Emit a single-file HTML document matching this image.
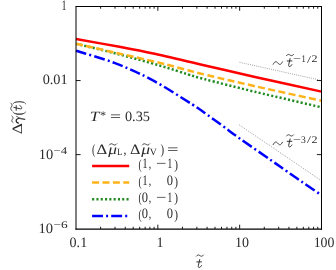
<!DOCTYPE html>
<html><head><meta charset="utf-8"><title>plot</title>
<style>html,body{margin:0;padding:0;background:#fff;overflow:hidden;width:336px;height:270px;}svg{display:block;will-change:transform;}text{font-family:"Liberation Serif",serif;fill:#2a2a2a;text-rendering:geometricPrecision;}</style></head><body>
<svg width="336" height="270" viewBox="0 0 336 270">
<rect width="336" height="270" fill="#fff"/>
<g fill="none" stroke="#606060" stroke-width="0.65" stroke-dasharray="0.9 1.25">
<path d="M239.5 62.3 L319.5 80.0"/>
<path d="M239.1 124.8 L320.8 180.3"/>
</g>
<g fill="none" stroke-width="2.5" stroke-linecap="butt" stroke-linejoin="round">
<path d="M76.00 50.80 C82.50 52.85 102.33 58.25 115.00 63.10 C127.67 67.95 139.15 73.03 152.00 79.90 C164.85 86.77 182.78 98.42 192.10 104.30 C201.42 110.18 202.60 111.45 207.90 115.20 C213.20 118.95 218.62 122.93 223.90 126.80 C229.18 130.67 231.75 132.83 239.60 138.40 C247.45 143.97 263.18 154.75 271.00 160.20 C278.82 165.65 281.29 167.45 286.50 171.10 C291.71 174.75 296.98 178.47 302.25 182.10 C307.52 185.73 314.89 190.72 318.10 192.90 C321.31 195.08 320.93 194.82 321.50 195.20" stroke="#0000ff" stroke-dasharray="10.9 3.1 2 3.1"/>
<path d="M76.00 43.70 C82.50 45.30 101.00 49.65 115.00 53.30 C129.00 56.95 147.83 62.08 160.00 65.60 C172.17 69.12 180.50 72.12 188.00 74.40 C195.50 76.68 193.83 76.40 205.00 79.30 C216.17 82.20 235.58 87.13 255.00 91.80 C274.42 96.47 310.42 104.72 321.50 107.30" stroke="#228b22" stroke-dasharray="2.1 2.2"/>
<path d="M76.00 43.70 C82.50 45.18 101.00 49.40 115.00 52.60 C129.00 55.80 148.67 60.17 160.00 62.90 C171.33 65.63 175.17 66.97 183.00 69.00 C190.83 71.03 195.00 72.23 207.00 75.10 C219.00 77.97 235.92 81.92 255.00 86.20 C274.08 90.48 310.42 98.37 321.50 100.80" stroke="#ffb31a" stroke-dasharray="7 3.4"/>
<path d="M76.00 39.00 C83.00 40.27 105.33 44.22 118.00 46.60 C130.67 48.98 137.50 50.15 152.00 53.30 C166.50 56.45 187.83 61.55 205.00 65.50 C222.17 69.45 235.58 72.65 255.00 77.00 C274.42 81.35 310.42 89.17 321.50 91.60" stroke="#ff0000"/>
</g>
<g fill="none" stroke-width="2.5">
<path d="M92.1 166.0H129.2" stroke="#ff0000"/>
<path d="M92.1 182.6H129.2" stroke="#ffb31a" stroke-dasharray="7 3.4"/>
<path d="M92.1 199.3H129.2" stroke="#228b22" stroke-dasharray="2.1 2.2"/>
<path d="M92.1 216.0H129.2" stroke="#0000ff" stroke-dasharray="10.9 3.1 2 3.1"/>
</g>
<g fill="none" stroke="#000" stroke-width="1">
<path d="M75.50 6.50H321.99"/>
<path d="M75.50 229.05H321.99" stroke-width="1.3"/>
<path d="M76.00 6.50V229.70"/>
<path d="M321.49 6.50V229.70"/>
<path d="M100.63 6.50v2.20 M100.63 228.98v-2.20 M115.04 6.50v2.20 M115.04 228.98v-2.20 M125.27 6.50v2.20 M125.27 228.98v-2.20 M133.20 6.50v2.20 M133.20 228.98v-2.20 M139.68 6.50v2.20 M139.68 228.98v-2.20 M145.15 6.50v2.20 M145.15 228.98v-2.20 M149.90 6.50v2.20 M149.90 228.98v-2.20 M154.09 6.50v2.20 M154.09 228.98v-2.20 M157.83 6.50v4.30 M157.83 228.98v-4.30 M182.46 6.50v2.20 M182.46 228.98v-2.20 M196.87 6.50v2.20 M196.87 228.98v-2.20 M207.10 6.50v2.20 M207.10 228.98v-2.20 M215.03 6.50v2.20 M215.03 228.98v-2.20 M221.51 6.50v2.20 M221.51 228.98v-2.20 M226.98 6.50v2.20 M226.98 228.98v-2.20 M231.73 6.50v2.20 M231.73 228.98v-2.20 M235.92 6.50v2.20 M235.92 228.98v-2.20 M239.66 6.50v4.30 M239.66 228.98v-4.30 M264.29 6.50v2.20 M264.29 228.98v-2.20 M278.70 6.50v2.20 M278.70 228.98v-2.20 M288.93 6.50v2.20 M288.93 228.98v-2.20 M296.86 6.50v2.20 M296.86 228.98v-2.20 M303.34 6.50v2.20 M303.34 228.98v-2.20 M308.81 6.50v2.20 M308.81 228.98v-2.20 M313.56 6.50v2.20 M313.56 228.98v-2.20 M317.75 6.50v2.20 M317.75 228.98v-2.20 M76.00 80.56h4.6 M321.49 80.56h-4.6 M76.00 154.62h4.6 M321.49 154.62h-4.6 " stroke-width="0.9"/>
</g>
<text transform="translate(61.38 9.60) scale(0.737 1.050)" font-size="13.6">1</text>
<text transform="translate(42.68 84.30) scale(1.049 1.050)" font-size="13.6">0.01</text>
<text transform="translate(38.77 158.70) scale(1.064 1.050)" font-size="13.6">10</text>
<text transform="translate(53.53 154.00) scale(1.337 1.050)" font-size="9.6">−4</text>
<text transform="translate(38.56 232.50) scale(1.072 1.050)" font-size="13.6">10</text>
<text transform="translate(53.41 227.90) scale(1.389 1.050)" font-size="9.6">−6</text>
<text transform="translate(69.58 246.90) scale(1.035 1.050)" font-size="13.6">0.1</text>
<text transform="translate(156.61 246.90) scale(1.032 1.050)" font-size="13.6">1</text>
<text transform="translate(234.91 246.90) scale(1.030 1.050)" font-size="13.6">10</text>
<text transform="translate(313.63 246.90) scale(1.019 1.050)" font-size="13.6">100</text>
<text transform="translate(89.73 121.00) scale(1.269 1.050)" font-size="13.6" font-style="italic">T</text>
<text transform="translate(100.00 118.62) scale(0.940 0.884)" font-size="13">*</text>
<text transform="translate(109.92 121.00) scale(1.440 1.050)" font-size="13.6">=</text>
<text transform="translate(124.97 121.10) scale(1.051 1.050)" font-size="13.6">0.35</text>
<text transform="translate(91.93 154.16) scale(0.743 1.033)" font-size="13.6">(</text>
<text transform="translate(96.39 154.00) scale(1.226 1.050)" font-size="13.6">Δ</text>
<text transform="translate(108.20 154.00) scale(1.280 1.050)" font-size="13.6" font-style="italic">μ</text>
<text transform="translate(116.96 155.40) scale(0.968 1.050)" font-size="9.2">L</text>
<text transform="translate(123.38 154.00) scale(0.850 1.050)" font-size="13.6">,</text>
<text transform="translate(130.01 154.00) scale(1.187 1.050)" font-size="13.6">Δ</text>
<text transform="translate(141.30 154.00) scale(1.296 1.050)" font-size="13.6" font-style="italic">μ</text>
<text transform="translate(149.63 155.40) scale(1.072 1.050)" font-size="9.2">V</text>
<text transform="translate(160.60 154.16) scale(0.800 1.033)" font-size="13.6">)</text>
<text transform="translate(167.07 154.00) scale(1.504 1.050)" font-size="13.6">=</text>
<text transform="translate(138.56 168.93) scale(0.686 1.008)" font-size="13.6">(</text>
<text transform="translate(142.20 168.40) scale(0.800 1.050)" font-size="13.6">1</text>
<text transform="translate(148.65 168.40) scale(0.700 1.050)" font-size="13.6">,</text>
<text transform="translate(156.08 168.40) scale(1.360 1.050)" font-size="13.6">−</text>
<text transform="translate(167.35 168.40) scale(0.758 1.050)" font-size="13.6">1</text>
<text transform="translate(174.19 168.93) scale(0.829 1.008)" font-size="13.6">)</text>
<text transform="translate(138.56 185.53) scale(0.686 1.008)" font-size="13.6">(</text>
<text transform="translate(142.20 185.00) scale(0.800 1.050)" font-size="13.6">1</text>
<text transform="translate(148.65 185.00) scale(0.700 1.050)" font-size="13.6">,</text>
<text transform="translate(166.64 185.00) scale(0.922 1.050)" font-size="13.6">0</text>
<text transform="translate(174.19 185.53) scale(0.829 1.008)" font-size="13.6">)</text>
<text transform="translate(138.56 202.23) scale(0.686 1.008)" font-size="13.6">(</text>
<text transform="translate(141.84 201.70) scale(0.922 1.050)" font-size="13.6">0</text>
<text transform="translate(148.65 201.70) scale(0.700 1.050)" font-size="13.6">,</text>
<text transform="translate(156.08 201.70) scale(1.360 1.050)" font-size="13.6">−</text>
<text transform="translate(167.35 201.70) scale(0.758 1.050)" font-size="13.6">1</text>
<text transform="translate(174.19 202.23) scale(0.829 1.008)" font-size="13.6">)</text>
<text transform="translate(138.56 218.93) scale(0.686 1.008)" font-size="13.6">(</text>
<text transform="translate(141.84 218.40) scale(0.922 1.050)" font-size="13.6">0</text>
<text transform="translate(148.65 218.40) scale(0.700 1.050)" font-size="13.6">,</text>
<text transform="translate(166.64 218.40) scale(0.922 1.050)" font-size="13.6">0</text>
<text transform="translate(174.19 218.93) scale(0.829 1.008)" font-size="13.6">)</text>
<text transform="translate(293.07 62.25) scale(1.467 1.050)" font-size="9.6">−</text>
<text transform="translate(301.54 62.25) scale(0.886 1.050)" font-size="9.6">1</text>
<text transform="translate(307.00 62.85) scale(1.480 1.050)" font-size="9.6">/</text>
<text transform="translate(311.47 62.25) scale(1.253 1.050)" font-size="9.6">2</text>
<text transform="translate(293.07 142.60) scale(1.467 1.050)" font-size="9.6">−</text>
<text transform="translate(301.10 142.60) scale(1.000 1.050)" font-size="9.6">3</text>
<text transform="translate(307.00 143.20) scale(1.480 1.050)" font-size="9.6">/</text>
<text transform="translate(311.47 142.60) scale(1.253 1.050)" font-size="9.6">2</text>
<g transform="translate(22.0 134.2) rotate(-90)">
<text transform="translate(-0.14 -0.30) scale(1.277 1.050)" font-size="13.6">Δ</text>
<text transform="translate(19.04 1.01) scale(0.914 1.125)" font-size="13.6">(</text>
<text transform="translate(29.79 1.01) scale(0.829 1.125)" font-size="13.6">)</text>
<path d="M11.60 -9.00c1.09 -1.60 2.18 -1.60 3.30 -0.60s2.21 1.00 3.30 -0.60" fill="none" stroke="#2a2a2a" stroke-width="0.8" stroke-linecap="round"/>
<path d="M23.40 -10.00c1.29 -1.60 2.57 -1.60 3.90 -0.60s2.61 1.00 3.90 -0.60" fill="none" stroke="#2a2a2a" stroke-width="0.8" stroke-linecap="round"/>
<path transform="translate(23.90 0.00) scale(1.000)" d="M2.9 -8.2L1.5 -1.9C1.3 -0.9 1.5 -0.2 2.3 -0.2C3.2 -0.2 4.1 -1 4.7 -2.1M0 -5.8H4.7" fill="none" stroke="#2a2a2a" stroke-width="0.95" stroke-linecap="round" stroke-linejoin="round"/>
<g transform="translate(11.0 0)" fill="none" stroke="#2a2a2a" stroke-linecap="round" stroke-linejoin="round"><path d="M0.1 -3.5C0.5 -5 1.5 -5.9 2.7 -5.8C3.9 -5.7 4.6 -4.7 4.7 -3.2" stroke-width="1.25"/><path d="M4.7 -3.2L3.8 3.2L4.4 0.2C4.9 -1.8 5.7 -3.6 6.7 -5.4" stroke-width="0.75"/></g>
</g>
<path d="M196.30 256.20c1.20 -1.60 2.41 -1.60 3.65 -0.60s2.45 1.00 3.65 -0.60" fill="none" stroke="#2a2a2a" stroke-width="0.8" stroke-linecap="round"/>
<path transform="translate(196.80 267.70) scale(1.000)" d="M2.9 -8.2L1.5 -1.9C1.3 -0.9 1.5 -0.2 2.3 -0.2C3.2 -0.2 4.1 -1 4.7 -2.1M0 -5.8H4.7" fill="none" stroke="#2a2a2a" stroke-width="0.95" stroke-linecap="round" stroke-linejoin="round"/>
<path d="M109.20 145.00c1.25 -1.60 2.51 -1.60 3.80 -0.60s2.55 1.00 3.80 -0.60" fill="none" stroke="#2a2a2a" stroke-width="0.8" stroke-linecap="round"/>
<path d="M142.20 145.00c1.25 -1.60 2.51 -1.60 3.80 -0.60s2.55 1.00 3.80 -0.60" fill="none" stroke="#2a2a2a" stroke-width="0.8" stroke-linecap="round"/>
<path d="M286.50 55.65c1.17 -1.60 2.34 -1.60 3.55 -0.60s2.38 1.00 3.55 -0.60" fill="none" stroke="#2a2a2a" stroke-width="0.8" stroke-linecap="round"/>
<path transform="translate(287.20 66.75) scale(1.000)" d="M2.9 -8.2L1.5 -1.9C1.3 -0.9 1.5 -0.2 2.3 -0.2C3.2 -0.2 4.1 -1 4.7 -2.1M0 -5.8H4.7" fill="none" stroke="#2a2a2a" stroke-width="0.95" stroke-linecap="round" stroke-linejoin="round"/>
<path d="M273.20 64.25c1.53 -3.20 3.07 -3.20 4.65 -1.20s3.12 2.00 4.65 -1.20" fill="none" stroke="#2a2a2a" stroke-width="0.9" stroke-linecap="round"/>
<path d="M286.50 136.00c1.17 -1.60 2.34 -1.60 3.55 -0.60s2.38 1.00 3.55 -0.60" fill="none" stroke="#2a2a2a" stroke-width="0.8" stroke-linecap="round"/>
<path transform="translate(287.20 147.10) scale(1.000)" d="M2.9 -8.2L1.5 -1.9C1.3 -0.9 1.5 -0.2 2.3 -0.2C3.2 -0.2 4.1 -1 4.7 -2.1M0 -5.8H4.7" fill="none" stroke="#2a2a2a" stroke-width="0.95" stroke-linecap="round" stroke-linejoin="round"/>
<path d="M273.20 144.60c1.53 -3.20 3.07 -3.20 4.65 -1.20s3.12 2.00 4.65 -1.20" fill="none" stroke="#2a2a2a" stroke-width="0.9" stroke-linecap="round"/>
</svg></body></html>
